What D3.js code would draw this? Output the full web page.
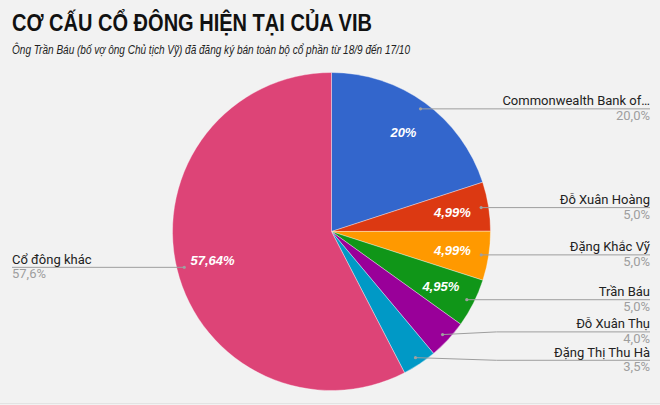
<!DOCTYPE html>
<html><head><meta charset="utf-8">
<script src="https://cdn.jsdelivr.net/npm/d3@7"></script>
<style>
html,body{margin:0;padding:0;background:#f2f2f2;}
svg{display:block;font-family:'Liberation Sans', Arial, sans-serif;}
</style></head>
<body><svg id="c" width="660" height="405"></svg>
<script>
const titleText = "CƠ CẤU CỔ ĐÔNG HIỆN TẠI CỦA VIB";
const subtitleText = "Ông Trần Báu (bố vợ ông Chủ tịch Vỹ) đã đăng ký bán toàn bộ cổ phần từ 18/9 đến 17/10";
const categories = ["Commonwealth Bank of…", "Đỗ Xuân Hoàng", "Đặng Khắc Vỹ", "Trần Báu", "Đỗ Xuân Thụ", "Đặng Thị Thu Hà", "Cổ đông khác"];
const values = [20, 4.99, 4.99, 4.95, 4.0, 3.5, 57.64];
const sliceLabels = ["20%", "4,99%", "4,99%", "4,95%", "", "", "57,64%"];
const colors = ["#3366cc", "#dc3912", "#ff9900", "#109618", "#990099", "#0099c6", "#dd4477"];

const svg = d3.select("#c");
const W = 660, H = 405;
const cx = 331.5, cy = 231.5, R = 159;

svg.append("text").attr("x", 12).attr("y", 31)
  .attr("font-size", 23.5).attr("font-weight", "bold").attr("fill", "#111")
  .attr("textLength", 360).attr("lengthAdjust", "spacingAndGlyphs")
  .text(titleText);
svg.append("text").attr("x", 12).attr("y", 53.5)
  .attr("font-size", 13.5).attr("font-style", "italic").attr("fill", "#222")
  .attr("textLength", 398).attr("lengthAdjust", "spacingAndGlyphs")
  .text(subtitleText);

svg.append("line").attr("x1", 0).attr("x2", W).attr("y1", 403.5).attr("y2", 403.5)
  .attr("stroke", "#e3e3e3").attr("stroke-width", 1);

const data = categories.map((c, i) => ({ name: c, value: values[i], label: sliceLabels[i], color: colors[i] }));
const pie = d3.pie().value(d => d.value).sort(null);
const arcs = pie(data);
const arc = d3.arc().innerRadius(0).outerRadius(R);
const labelArc = d3.arc().innerRadius(R * 0.77).outerRadius(R * 0.77);
const dotArc = d3.arc().innerRadius(R * 0.953).outerRadius(R * 0.953);

const g = svg.append("g").attr("transform", `translate(${cx},${cy})`);
g.selectAll("path.slice").data(arcs).enter().append("path")
  .attr("class", "slice").attr("d", arc)
  .attr("fill", d => d.data.color)
  .attr("stroke", "#ffffff").attr("stroke-width", 0.6).attr("stroke-opacity", 0.6);

g.selectAll("text.sl").data(arcs).enter().append("text")
  .attr("class", "sl")
  .attr("transform", d => { const p = labelArc.centroid(d); return `translate(${p[0]},${p[1]})`; })
  .attr("text-anchor", "middle").attr("dy", "0.36em")
  .attr("font-size", 13).attr("font-weight", "bold").attr("font-style", "italic")
  .attr("fill", "#fff")
  .text(d => d.data.label);

// legend layout
const fmt = v => d3.format(".1f")(v).replace(".", ",") + "%";
const items = arcs.map(d => {
  const p = dotArc.centroid(d);
  const mid = (d.startAngle + d.endAngle) / 2;
  return { d, dx: p[0] + cx, dy: p[1] + cy, right: mid < Math.PI, y: p[1] + cy };
});
const minGap = 28.4;
["right", "left"].forEach(side => {
  const list = items.filter(it => (side === "right") === it.right).sort((a, b) => a.y - b.y);
  for (let iter = 0; iter < 50; iter++) {
    let moved = false;
    for (let i = 1; i < list.length; i++) {
      const gap = list[i].y - list[i - 1].y;
      if (gap < minGap) {
        const s = (minGap - gap) / 2;
        list[i - 1].y -= s; list[i].y += s; moved = true;
      }
    }
    if (!moved) break;
  }
});

const lg = svg.append("g").attr("font-family", "Roboto, Arial, sans-serif");
items.forEach(it => {
  const xEnd = it.right ? 650 : 12;
  const bendX = it.right ? cx + R + 6 : cx - R - 6;
  const pts = Math.abs(it.y - it.dy) < 0.5 ? [[it.dx, it.dy], [xEnd, it.y]] : [[it.dx, it.dy], [bendX, it.y], [xEnd, it.y]];
  lg.append("path").attr("d", d3.line()(pts)).attr("fill", "none")
    .attr("stroke", "#9e9e9e").attr("stroke-width", 1);
  lg.append("circle").attr("cx", it.dx).attr("cy", it.dy).attr("r", 1.6).attr("fill", "#a0a0a0");
  const anchor = it.right ? "end" : "start";
  lg.append("text").attr("x", xEnd).attr("y", it.y - 3.5).attr("text-anchor", anchor)
    .attr("font-size", 13).attr("fill", "#222").text(it.d.data.name);
  lg.append("text").attr("x", xEnd).attr("y", it.y + 11).attr("text-anchor", anchor)
    .attr("font-size", 13).attr("fill", "#9e9e9e").text(fmt(it.d.data.value));
});
</script></body></html>
